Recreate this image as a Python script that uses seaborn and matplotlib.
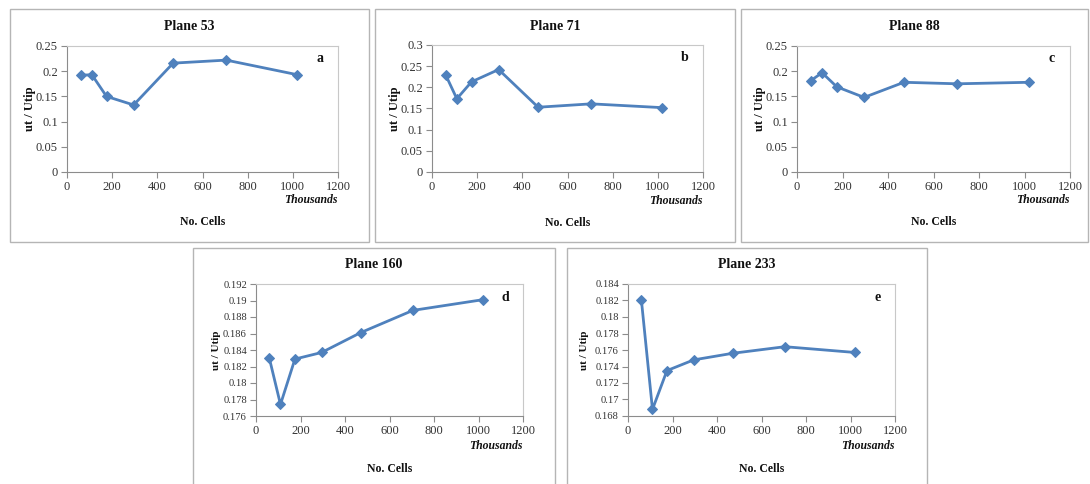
import matplotlib
matplotlib.use("Agg")
import matplotlib.pyplot as plt
from matplotlib.patches import Rectangle
import seaborn as sns
import pandas as pd

sns.set_theme(style="white")
plt.rcParams["font.family"] = ["Liberation Serif", "DejaVu Serif"]

# Mesh size (thousands of cells)
cells = [60, 110, 175, 295, 470, 705, 1020]

# ut / Utip for each plane
plane_53 = [0.192, 0.193, 0.150, 0.133, 0.216, 0.222, 0.193]
plane_71 = [0.230, 0.173, 0.213, 0.242, 0.153, 0.161, 0.152]
plane_88 = [0.181, 0.197, 0.169, 0.148, 0.178, 0.175, 0.178]
plane_160 = [0.1830, 0.1774, 0.1829, 0.1837, 0.1861, 0.1888, 0.1901]
plane_233 = [0.1821, 0.1688, 0.1735, 0.1748, 0.1756, 0.1764, 0.1757]

titles = ["Plane 53", "Plane 71", "Plane 88", "Plane 160", "Plane 233"]
letters = ["a", "b", "c", "d", "e"]
series = [plane_53, plane_71, plane_88, plane_160, plane_233]
y_ticks = [
    [0, 0.05, 0.1, 0.15, 0.2, 0.25],
    [0, 0.05, 0.1, 0.15, 0.2, 0.25, 0.3],
    [0, 0.05, 0.1, 0.15, 0.2, 0.25],
    [0.176, 0.178, 0.18, 0.182, 0.184, 0.186, 0.188, 0.19, 0.192],
    [0.168, 0.17, 0.172, 0.174, 0.176, 0.178, 0.18, 0.182, 0.184],
]
x_ticks = [0, 200, 400, 600, 800, 1000, 1200]

W, H = 1090, 484
fig = plt.figure(figsize=(W / 100, H / 100), dpi=100)
fig.patch.set_facecolor("white")

# panel frames (left, top, right, bottom) and plot areas in pixels
frames = [(10, 9, 369, 242), (375, 9, 735, 242), (741, 9, 1088, 242),
          (193, 248, 555, 490), (567, 248, 927, 490)]
areas = [(67, 46, 338, 172), (432, 45, 703, 172), (797, 46, 1070, 172),
         (256, 284, 523, 416), (628, 284, 895, 416)]
# horizontal position of the y-axis title (axes fraction)
ylabel_x = [-0.114, -0.114, -0.114, -0.131, -0.146]
# y tick / y title font sizes per panel
ytick_size = [9, 9, 9, 7.6, 7.6]
ylabel_size = [9, 9, 9, 8, 8]

LINE = "#4f81bd"
GRID = "#8c8c8c"


def fx(px):
    return px / W


def fy(py):
    return 1 - py / H


def fmt(v):
    return f"{v:.3f}".rstrip("0").rstrip(".")


for i in range(5):
    l, t, r, b = frames[i]
    fig.patches.append(Rectangle((fx(l), fy(b)), fx(r - l), (b - t) / H,
                                 transform=fig.transFigure, fill=False,
                                 edgecolor="#b5b5b5", linewidth=1.0, zorder=0))
    al, at, ar, ab = areas[i]
    ax = fig.add_axes([fx(al), fy(ab), fx(ar - al), (ab - at) / H])
    df = pd.DataFrame({"cells": cells, "ratio": series[i]})
    sns.lineplot(data=df, x="cells", y="ratio", ax=ax, color=LINE,
                 linewidth=2.0, marker="D", markersize=5.5,
                 markeredgecolor=LINE, markerfacecolor=LINE)
    yt = y_ticks[i]
    ax.set_xlim(0, 1200)
    ax.set_ylim(yt[0], yt[-1])
    ax.set_xticks(x_ticks)
    ax.set_xticklabels([str(v) for v in x_ticks])
    ax.set_yticks(yt)
    ax.set_yticklabels([fmt(v) for v in yt])
    ax.tick_params(axis="both", which="major", length=4, width=0.8,
                   color=GRID, labelsize=9, labelcolor="#333333",
                   direction="out", bottom=True, left=True, pad=2.5)
    ax.tick_params(axis="y", labelsize=ytick_size[i])
    for sp in ax.spines.values():
        sp.set_color("#c8c8c8")
        sp.set_linewidth(0.8)
    ax.spines["left"].set_color(GRID)
    ax.spines["bottom"].set_color(GRID)
    ax.set_xlabel("")
    ax.set_ylabel("ut / Utip", fontsize=ylabel_size[i], fontweight="bold",
                  color="#111111")
    ax.yaxis.set_label_coords(ylabel_x[i], 0.5)
    ax.text(0.934, 0.9, letters[i], transform=ax.transAxes, fontsize=10,
            fontweight="bold", ha="center", va="center", color="#111111")
    ax.text(1.0, -0.225, "Thousands", transform=ax.transAxes, fontsize=8.5,
            fontweight="bold", style="italic", ha="right", va="center",
            color="#111111")
    ax.text(0.5, -0.40, "No. Cells", transform=ax.transAxes, fontsize=8.5,
            fontweight="bold", ha="center", va="center", color="#111111")
    fig.text(fx((l + r) / 2), fy(t + 17), titles[i],
             fontsize=10, fontweight="bold", ha="center", va="center",
             color="#111111")

fig.savefig("out.png", dpi=100, facecolor="white")
